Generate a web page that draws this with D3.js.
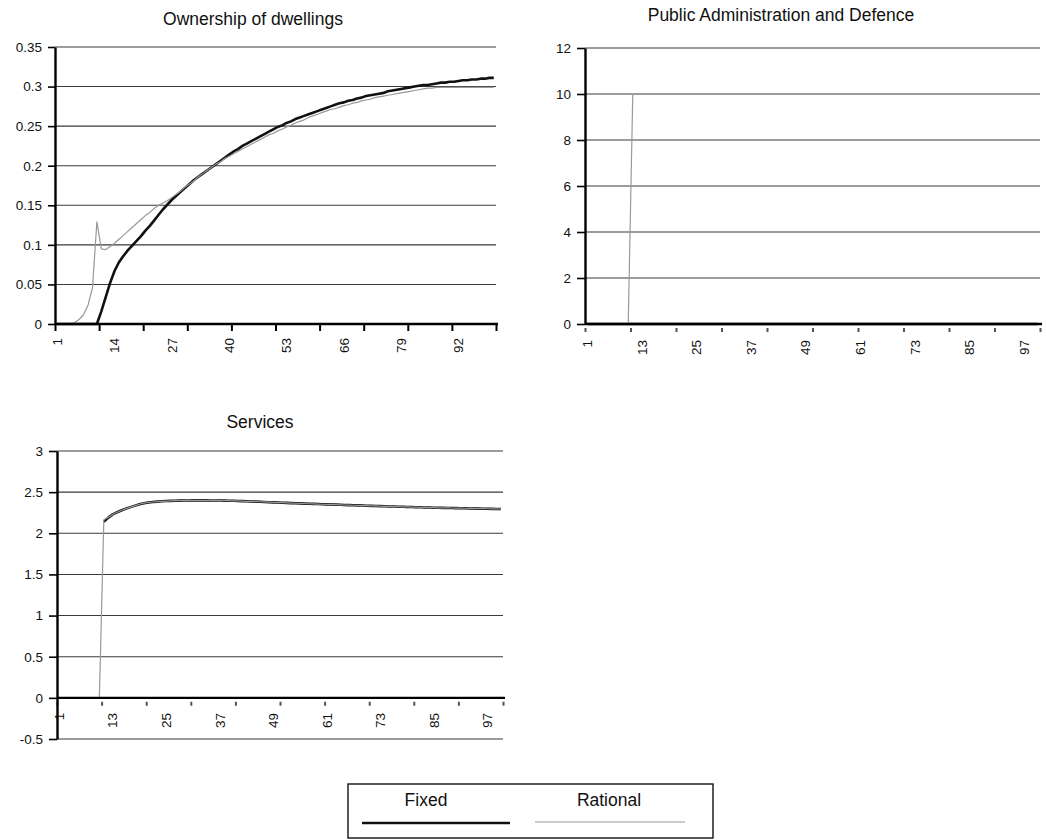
<!DOCTYPE html>
<html>
<head>
<meta charset="utf-8">
<script src="https://cdn.jsdelivr.net/npm/d3@7"></script>
<style>
  html, body { margin: 0; padding: 0; background: #fff; }
  svg { display: block; font-family: "Liberation Sans", Arial, Helvetica, sans-serif; }
</style>
</head>
<body>
<svg id="chart" width="1046" height="840"></svg>
<script>
// ---------------- DATA ----------------
const periods = d3.range(1, 101);

const ownXLabels = [1, 14, 27, 40, 53, 66, 79, 92];
const padXLabels = [1, 13, 25, 37, 49, 61, 73, 85, 97];
const servXLabels = [1, 13, 25, 37, 49, 61, 73, 85, 97];
const tickBoundaries = [0, 10, 20, 30, 40, 50, 60, 70, 80, 90, 100];

const ownYTicks = [0, 0.05, 0.1, 0.15, 0.2, 0.25, 0.3, 0.35];
const padYTicks = [0, 2, 4, 6, 8, 10, 12];
const servYTicks = [-0.5, 0, 0.5, 1, 1.5, 2, 2.5, 3];

const seriesNames = ["Fixed", "Rational"];
const titles = ["Ownership of dwellings", "Public Administration and Defence", "Services"];

const ownFixed = [
  0, 0, 0, 0, 0, 0, 0, 0, 0, 0,
  0.016, 0.034, 0.052, 0.067, 0.078, 0.086, 0.093, 0.099, 0.105, 0.111,
  0.118, 0.124, 0.131, 0.138, 0.145, 0.151, 0.157, 0.162, 0.167, 0.172,
  0.177, 0.182, 0.186, 0.190, 0.194, 0.198, 0.202, 0.206, 0.210, 0.214,
  0.218, 0.221, 0.225, 0.228, 0.231, 0.234, 0.237, 0.240, 0.243, 0.246,
  0.249, 0.251, 0.254, 0.256, 0.259, 0.261, 0.263, 0.265, 0.267, 0.269,
  0.271, 0.273, 0.275, 0.277, 0.279, 0.280, 0.282, 0.283, 0.285, 0.286,
  0.288, 0.289, 0.290, 0.291, 0.292, 0.294, 0.295, 0.296, 0.297, 0.298,
  0.299, 0.300, 0.301, 0.302, 0.302, 0.303, 0.304, 0.305, 0.305, 0.306,
  0.306, 0.307, 0.308, 0.308, 0.309, 0.309, 0.310, 0.310, 0.311, 0.311
];
const ownRational = [
  0, 0, 0, 0, 0.002, 0.006, 0.012, 0.024, 0.046, 0.129,
  0.095, 0.094, 0.098, 0.102, 0.107, 0.112, 0.117, 0.122, 0.127, 0.132,
  0.137, 0.141, 0.146, 0.150, 0.153, 0.156, 0.160, 0.164, 0.168, 0.173,
  0.177, 0.181, 0.186, 0.190, 0.194, 0.198, 0.202, 0.205, 0.209, 0.212,
  0.215, 0.218, 0.221, 0.224, 0.227, 0.230, 0.233, 0.236, 0.239, 0.241,
  0.244, 0.246, 0.249, 0.251, 0.254, 0.256, 0.258, 0.261, 0.263, 0.265,
  0.267, 0.269, 0.271, 0.272, 0.274, 0.276, 0.277, 0.279, 0.280, 0.282,
  0.283, 0.284, 0.286, 0.287, 0.288, 0.289, 0.290, 0.291, 0.292, 0.293,
  0.294, 0.295, 0.296, 0.297, 0.298, 0.298, 0.299, 0.299, 0.299, 0.299,
  0.299, 0.299, 0.299, 0.299, 0.299, 0.299, 0.299, 0.299, 0.299, 0.299
];

const padFixed = [
  0, 0, 0, 0, 0, 0, 0, 0, 0, 0,
  0, 0, 0, 0, 0, 0, 0, 0, 0, 0,
  0, 0, 0, 0, 0, 0, 0, 0, 0, 0,
  0, 0, 0, 0, 0, 0, 0, 0, 0, 0,
  0, 0, 0, 0, 0, 0, 0, 0, 0, 0,
  0, 0, 0, 0, 0, 0, 0, 0, 0, 0,
  0, 0, 0, 0, 0, 0, 0, 0, 0, 0,
  0, 0, 0, 0, 0, 0, 0, 0, 0, 0,
  0, 0, 0, 0, 0, 0, 0, 0, 0, 0,
  0, 0, 0, 0, 0, 0, 0, 0, 0, 0
];
const padRational = [
  0, 0, 0, 0, 0, 0, 0, 0, 0, 0,
  10, 10, 10, 10, 10, 10, 10, 10, 10, 10,
  10, 10, 10, 10, 10, 10, 10, 10, 10, 10,
  10, 10, 10, 10, 10, 10, 10, 10, 10, 10,
  10, 10, 10, 10, 10, 10, 10, 10, 10, 10,
  10, 10, 10, 10, 10, 10, 10, 10, 10, 10,
  10, 10, 10, 10, 10, 10, 10, 10, 10, 10,
  10, 10, 10, 10, 10, 10, 10, 10, 10, 10,
  10, 10, 10, 10, 10, 10, 10, 10, 10, 10,
  10, 10, 10, 10, 10, 10, 10, 10, 10, 10
];

const servFixed = [
  null, null, null, null, null, null, null, null, null, null,
  2.140, 2.190, 2.230, 2.255, 2.280, 2.300, 2.318, 2.336, 2.353, 2.366,
  2.374, 2.380, 2.385, 2.389, 2.392, 2.394, 2.396, 2.397, 2.398, 2.399,
  2.400, 2.400, 2.400, 2.400, 2.399, 2.399, 2.398, 2.397, 2.396, 2.395,
  2.393, 2.391, 2.389, 2.387, 2.385, 2.383, 2.381, 2.378, 2.376, 2.374,
  2.372, 2.369, 2.367, 2.365, 2.363, 2.361, 2.359, 2.357, 2.355, 2.353,
  2.351, 2.350, 2.348, 2.346, 2.344, 2.342, 2.341, 2.339, 2.337, 2.335,
  2.333, 2.332, 2.330, 2.328, 2.326, 2.325, 2.323, 2.322, 2.320, 2.319,
  2.317, 2.316, 2.314, 2.313, 2.311, 2.310, 2.309, 2.308, 2.307, 2.306,
  2.305, 2.304, 2.302, 2.301, 2.300, 2.299, 2.298, 2.297, 2.296, 2.295
];
const servRational = [
  0, 0, 0, 0, 0, 0, 0, 0, 0, 0,
  2.165, 2.195, 2.228, 2.255, 2.280, 2.300, 2.318, 2.336, 2.353, 2.366,
  2.374, 2.380, 2.385, 2.389, 2.392, 2.394, 2.396, 2.397, 2.398, 2.399,
  2.400, 2.400, 2.400, 2.400, 2.399, 2.399, 2.398, 2.397, 2.396, 2.395,
  2.393, 2.391, 2.389, 2.387, 2.385, 2.383, 2.381, 2.378, 2.376, 2.374,
  2.372, 2.369, 2.367, 2.365, 2.363, 2.361, 2.359, 2.357, 2.355, 2.353,
  2.351, 2.350, 2.348, 2.346, 2.344, 2.342, 2.341, 2.339, 2.337, 2.335,
  2.333, 2.332, 2.330, 2.328, 2.326, 2.325, 2.323, 2.322, 2.320, 2.319,
  2.317, 2.316, 2.314, 2.313, 2.311, 2.310, 2.309, 2.308, 2.307, 2.306,
  2.305, 2.304, 2.302, 2.301, 2.300, 2.299, 2.298, 2.297, 2.296, 2.295
];

// ---------------- STYLE ----------------
const fixedColor = "#111", fixedWidth = 2.6;
const ratColor = "#999", ratWidth = 1.2;
const gridColor = "#3a3a3a";
const tickFont = 13.5;

const svg = d3.select("#chart");
svg.append("rect").attr("width", 1046).attr("height", 840).attr("fill", "#fff");

function panel(o) {
  const g = svg.append("g");
  const x = d3.scaleBand().domain(periods).range([o.left, o.right]).padding(0);
  const xb = d3.scaleLinear().domain([0, periods.length]).range([o.left, o.right]);
  const y = d3.scaleLinear().domain(o.yDomain).range([o.bottom, o.top]);
  const y0 = y(0);

  // title
  g.append("text").attr("x", o.titleX).attr("y", o.titleY)
    .attr("text-anchor", "middle").attr("font-size", 17.5).attr("fill", "#111")
    .text(o.title);

  // gridlines
  g.append("g").selectAll("line")
    .data(o.yTicks.filter(v => v !== 0))
    .join("line")
    .attr("x1", o.left).attr("x2", o.right)
    .attr("y1", d => y(d)).attr("y2", d => y(d))
    .attr("stroke", gridColor).attr("stroke-width", 1.1);

  // x-axis tick marks at category boundaries
  const xt = g.append("g").attr("transform", `translate(0,${y0})`)
    .call(d3.axisBottom(xb).tickValues(tickBoundaries).tickSize(o.xTickLen).tickFormat(""));
  xt.select(".domain").remove();
  xt.selectAll(".tick line").attr("stroke", o.xTickColor).attr("stroke-width", o.xTickWidth)
    .attr("stroke-dasharray", o.xTickDash);

  // x-axis labels (rotated)
  const xl = g.append("g").attr("transform", `translate(0,${y0})`)
    .call(d3.axisBottom(x).tickValues(o.xLabels).tickSize(0).tickFormat(d => String(d)));
  xl.select(".domain").remove();
  xl.selectAll("text")
    .attr("transform", "rotate(-90)")
    .attr("x", -o.xLabelOffset).attr("y", 0).attr("dy", "0.35em")
    .attr("text-anchor", "end")
    .attr("font-size", tickFont).attr("fill", "#111")
    .attr("font-family", "Liberation Sans, Arial, sans-serif");

  // series lines
  const line = d3.line()
    .defined(d => d != null)
    .x((d, i) => x(periods[i]) + x.bandwidth() / 2)
    .y(d => y(d));
  g.append("path").datum(o.fixed).attr("d", line)
    .attr("fill", "none").attr("stroke", fixedColor).attr("stroke-width", fixedWidth)
    .attr("stroke-linejoin", "round");
  g.append("path").datum(o.rational).attr("d", line)
    .attr("fill", "none").attr("stroke", ratColor).attr("stroke-width", ratWidth)
    .attr("stroke-linejoin", "round");

  // x axis line at zero (drawn over the series)
  g.append("line").attr("x1", o.left).attr("x2", o.right + 2)
    .attr("y1", y0).attr("y2", y0)
    .attr("stroke", "#000").attr("stroke-width", 2.4);

  // y axis
  const ya = g.append("g").attr("transform", `translate(${o.left},0)`)
    .call(d3.axisLeft(y).tickValues(o.yTicks).tickSize(o.yTickLen).tickSizeOuter(0)
      .tickPadding(o.yPad).tickFormat(d => String(d)));
  ya.select(".domain").attr("stroke", "#000").attr("stroke-width", 2.4);
  ya.selectAll(".tick line").attr("stroke", "#000").attr("stroke-width", 1.6);
  ya.selectAll("text").attr("font-size", tickFont).attr("fill", "#111")
    .attr("font-family", "Liberation Sans, Arial, sans-serif");
}

panel({
  title: titles[0], titleX: 253, titleY: 25,
  left: 55, right: 496, top: 47, bottom: 324,
  yDomain: [0, 0.35], yTicks: ownYTicks, yTickLen: 7, yPad: 6,
  xLabels: ownXLabels, xLabelOffset: 14,
  xTickLen: 7, xTickColor: "#000", xTickWidth: 2, xTickDash: null,
  fixed: ownFixed, rational: ownRational
});

panel({
  title: titles[1], titleX: 781, titleY: 21,
  left: 585, right: 1040, top: 48, bottom: 324,
  yDomain: [0, 12], yTicks: padYTicks, yTickLen: 8, yPad: 6,
  xLabels: padXLabels, xLabelOffset: 16,
  xTickLen: 8, xTickColor: "#555", xTickWidth: 2, xTickDash: "0,4,4",
  fixed: padFixed, rational: padRational
});

panel({
  title: titles[2], titleX: 260, titleY: 428,
  left: 57, right: 503, top: 451, bottom: 739,
  yDomain: [-0.5, 3], yTicks: servYTicks, yTickLen: 8, yPad: 6,
  xLabels: servXLabels, xLabelOffset: 15,
  xTickLen: 8, xTickColor: "#555", xTickWidth: 2, xTickDash: "0,4,4",
  fixed: servFixed, rational: servRational
});

// ---------------- LEGEND ----------------
const lg = svg.append("g");
lg.append("rect").attr("x", 348).attr("y", 784).attr("width", 365).attr("height", 54)
  .attr("fill", "#fff").attr("stroke", "#111").attr("stroke-width", 1.4);
const legendItems = [
  { name: seriesNames[0], cx: 426, x1: 362, x2: 510, ly: 823, color: fixedColor, w: fixedWidth },
  { name: seriesNames[1], cx: 609, x1: 535, x2: 685, ly: 822, color: ratColor, w: ratWidth }
];
lg.selectAll("text.leg").data(legendItems).join("text").attr("class", "leg")
  .attr("x", d => d.cx).attr("y", 806).attr("text-anchor", "middle")
  .attr("font-size", 17.5).attr("fill", "#111").text(d => d.name);
lg.selectAll("line.leg").data(legendItems).join("line").attr("class", "leg")
  .attr("x1", d => d.x1).attr("x2", d => d.x2).attr("y1", d => d.ly).attr("y2", d => d.ly)
  .attr("stroke", d => d.color).attr("stroke-width", d => d.w);
</script>
</body>
</html>
